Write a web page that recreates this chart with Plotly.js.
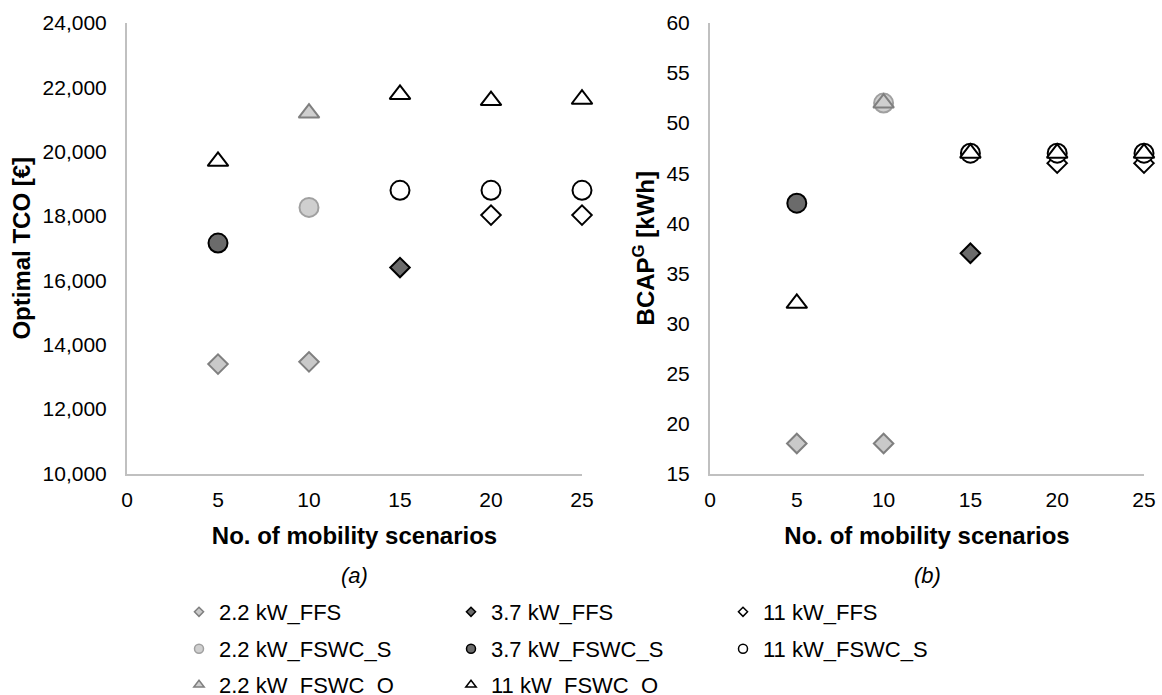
<!DOCTYPE html>
<html>
<head>
<meta charset="utf-8">
<script src="https://cdn.plot.ly/plotly-3.0.1.min.js"></script>
<style>html,body{margin:0;padding:0;background:#fff;}#chart{width:1162px;height:695px;}</style>
</head>
<body>
<div id="chart"></div>
<script>
// ---- data ----
const scenarios = [5, 10, 15, 20, 25];
const xTickVals = [0, 5, 10, 15, 20, 25];

const seriesNames = ["2.2 kW_FFS", "3.7 kW_FFS", "11 kW_FFS",
                     "2.2 kW_FSWC_S", "3.7 kW_FSWC_S", "11 kW_FSWC_S",
                     "2.2 kW_FSWC_O", "11 kW_FSWC_O"];

// (a) Optimal TCO [€]
const tco_22_FFS    = [13400, 13470, null, null, null];
const tco_37_FFS    = [null, null, 16400, null, null];
const tco_11_FFS    = [null, null, null, 18030, 18030];
const tco_22_FSWC_S = [null, 18270, null, null, null];
const tco_37_FSWC_S = [17160, null, null, null, null];
const tco_11_FSWC_S = [null, null, 18800, 18800, 18800];
const tco_22_FSWC_O = [null, 21200, null, null, null];
const tco_11_FSWC_O = [19700, null, 21780, 21590, 21630];

// (b) BCAP^G [kWh]
const bcap_22_FFS    = [18, 18, null, null, null];
const bcap_37_FFS    = [null, null, 37, null, null];
const bcap_11_FFS    = [null, null, null, 46, 46];
const bcap_22_FSWC_S = [null, 52, null, null, null];
const bcap_37_FSWC_S = [42, null, null, null, null];
const bcap_11_FSWC_S = [null, null, 47, 47, 47];
const bcap_22_FSWC_O = [null, 52, null, null, null];
const bcap_11_FSWC_O = [32, null, 47, 47, 47];

// ---- styles ----
const styles = [
  {symbol: "diamond",     fill: "#c9c9c9", line: "#7f7f7f", size: 15, lsize: 7},
  {symbol: "diamond",     fill: "#6b6b6b", line: "#000000", size: 15, lsize: 7},
  {symbol: "diamond",     fill: "#ffffff", line: "#000000", size: 15, lsize: 7},
  {symbol: "circle",      fill: "#cfcfcf", line: "#a0a0a0", size: 19, lsize: 9},
  {symbol: "circle",      fill: "#6b6b6b", line: "#000000", size: 19, lsize: 9},
  {symbol: "circle",      fill: "#ffffff", line: "#000000", size: 19, lsize: 9},
  {symbol: "triangle-up", fill: "#cfcfcf", line: "#7f7f7f", size: 18, lsize: 9},
  {symbol: "triangle-up", fill: "#ffffff", line: "#000000", size: 18, lsize: 9}
];
const legendRow = ["legend", "legend", "legend", "legend2", "legend2", "legend2", "legend3", "legend3"];

const tcoSeries  = [tco_22_FFS, tco_37_FFS, tco_11_FFS, tco_22_FSWC_S, tco_37_FSWC_S, tco_11_FSWC_S, tco_22_FSWC_O, tco_11_FSWC_O];
const bcapSeries = [bcap_22_FFS, bcap_37_FFS, bcap_11_FFS, bcap_22_FSWC_S, bcap_37_FSWC_S, bcap_11_FSWC_S, bcap_22_FSWC_O, bcap_11_FSWC_O];

const FONT = "Liberation Sans, Arial, sans-serif";
const traces = [];
function addSeries(series, xa, ya) {
  series.forEach((vals, i) => {
    const s = styles[i];
    traces.push({
      type: "scatter", mode: "markers", x: scenarios, y: vals,
      xaxis: xa, yaxis: ya, name: seriesNames[i], showlegend: false,
      marker: {symbol: s.symbol, size: s.size, color: s.fill, line: {color: s.line, width: 2}},
      cliponaxis: false, hoverinfo: "x+y+name"
    });
  });
}
addSeries(tcoSeries, "x", "y");
addSeries(bcapSeries, "x2", "y2");
// legend entries (no data of their own)
seriesNames.forEach((n, i) => {
  const s = styles[i];
  traces.push({
    type: "scatter", mode: "markers", x: [null], y: [null], xaxis: "x", yaxis: "y",
    name: n, showlegend: true, legend: legendRow[i],
    marker: {symbol: s.symbol, size: s.lsize, color: s.fill, line: {color: s.line, width: 1.5}}
  });
});

const W = 1162, H = 695;
const yTop = 1 - 23 / H, yBot = 1 - 473.5 / H;
const axCommon = {
  showline: true, linecolor: "#c0c0c0", linewidth: 2, showgrid: false, zeroline: false,
  ticks: "", tickfont: {family: FONT, size: 21, color: "#000"}, fixedrange: true, automargin: true
};
const xTitle = {text: "<b>No. of mobility scenarios</b>", font: {family: FONT, size: 24, color: "#000"}, standoff: 17};

function legendAt(topPix) {
  return {
    orientation: "h", x: 179 / W, xanchor: "left", y: 1 - topPix / H, yanchor: "top",
    entrywidth: 227, entrywidthmode: "pixels", traceorder: "normal",
    font: {family: FONT, size: 22, color: "#000"}, bgcolor: "rgba(0,0,0,0)",
    itemclick: false, itemdoubleclick: false
  };
}

const layout = {
  width: W, height: H,
  margin: {l: 0, r: 0, t: 0, b: 0, autoexpand: false},
  paper_bgcolor: "#fff", plot_bgcolor: "#fff",
  font: {family: FONT, color: "#000"},
  xaxis: Object.assign({}, axCommon, {domain: [127 / W, 582 / W], range: [0, 25], tickvals: xTickVals, ticklabelstandoff: 6, title: xTitle, anchor: "y"}),
  yaxis: Object.assign({}, axCommon, {domain: [yBot, yTop], range: [10000, 24000], dtick: 2000, tickformat: ",", ticklabelstandoff: 14,
    title: {text: "<b>Optimal TCO [€]</b>", font: {family: FONT, size: 24, color: "#000"}, standoff: 5}, anchor: "x"}),
  xaxis2: Object.assign({}, axCommon, {domain: [710 / W, 1144 / W], range: [0, 25], tickvals: xTickVals, ticklabelstandoff: 6, title: xTitle, anchor: "y2"}),
  yaxis2: Object.assign({}, axCommon, {domain: [yBot, yTop], range: [15, 60], dtick: 5, ticklabelstandoff: 14,
    title: {text: "<b>BCAP<sup>G</sup> [kWh]</b>", font: {family: FONT, size: 24, color: "#000"}, standoff: 5}, anchor: "x2"}),
  showlegend: true,
  legend: legendAt(591),
  legend2: legendAt(628),
  legend3: legendAt(664),
  annotations: [
    {text: "<i>(a)</i>", x: (127 + 582) / 2 / W, y: 1 - 575 / H, xref: "paper", yref: "paper", showarrow: false, xanchor: "center", yanchor: "middle", font: {family: FONT, size: 22, color: "#000"}},
    {text: "<i>(b)</i>", x: (710 + 1144) / 2 / W, y: 1 - 575 / H, xref: "paper", yref: "paper", showarrow: false, xanchor: "center", yanchor: "middle", font: {family: FONT, size: 22, color: "#000"}}
  ]
};

Plotly.newPlot("chart", traces, layout, {displayModeBar: false, staticPlot: true});
</script>
</body>
</html>
